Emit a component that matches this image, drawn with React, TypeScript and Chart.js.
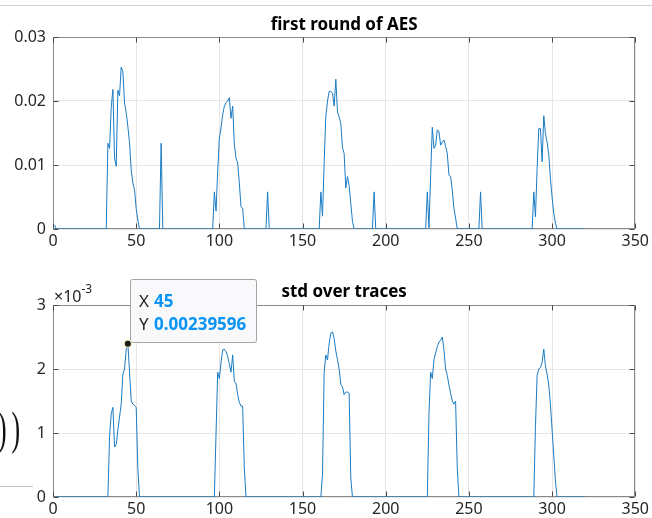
import React, { useEffect, useRef } from "react";
import { Chart, registerables } from "chart.js";

Chart.register(...registerables);

const FONT = "'Noto Sans', 'Open Sans', sans-serif";

// ---------- shared x axis ----------
const xTickValues = [0, 50, 100, 150, 200, 250, 300, 350];
const xTickLabels = ["0", "50", "100", "150", "200", "250", "300", "350"];

// ---------- top panel: first round of AES ----------
const aesTitle = "first round of AES";
const aesYTickValues = [0, 0.01, 0.02, 0.03];
const aesYTickLabels = ["0", "0.01", "0.02", "0.03"];
// each burst: first sample index, then consecutive sample values
const aesBurstStarts = [1, 32, 64, 96, 128, 160, 192, 224, 256, 288, 320];
const aesBurst1 = [0.0006, 0];
const aesBurst2 = [0, 0.0134, 0.0126, 0.019, 0.0218, 0.0111, 0.0098, 0.0217, 0.0208, 0.0253, 0.0246, 0.0197, 0.0182, 0.016, 0.0135, 0.0092, 0.0072, 0.0062, 0.0032, 0.0014, 0];
const aesBurst3 = [0, 0.0134, 0];
const aesBurst4 = [0, 0.0058, 0.0028, 0.009, 0.0142, 0.0158, 0.0179, 0.0192, 0.0197, 0.02, 0.0205, 0.0173, 0.0192, 0.0132, 0.0111, 0.0103, 0.0072, 0.0035, 0.0032, 0];
const aesBurst5 = [0, 0.0058, 0];
const aesBurst6 = [0, 0.0058, 0.002, 0.0105, 0.0176, 0.02, 0.0215, 0.0215, 0.0212, 0.0192, 0.0234, 0.0183, 0.0175, 0.0165, 0.0127, 0.0118, 0.0064, 0.0082, 0.0068, 0.004, 0.0012, 0];
const aesBurst7 = [0, 0.0058, 0];
const aesBurst8 = [0, 0.0058, 0.0002, 0.0085, 0.0159, 0.0126, 0.0131, 0.0155, 0.0152, 0.0131, 0.0136, 0.0139, 0.0129, 0.0118, 0.0084, 0.0082, 0.0061, 0.0032, 0.0017, 0];
const aesBurst9 = [0, 0.0058, 0];
const aesBurst10 = [0, 0.0058, 0.0019, 0.0095, 0.0157, 0.0157, 0.0105, 0.0177, 0.0149, 0.0136, 0.0116, 0.0079, 0.005, 0.0025, 0.0009, 0];
const aesBurst11 = [0];
const aesBursts = [aesBurst1, aesBurst2, aesBurst3, aesBurst4, aesBurst5, aesBurst6, aesBurst7, aesBurst8, aesBurst9, aesBurst10, aesBurst11];

// ---------- bottom panel: std over traces ----------
const stdTitle = "std over traces";
const stdExponent = "-3";
const stdYTickValues = [0, 0.001, 0.002, 0.003];
const stdYTickLabels = ["0", "1", "2", "3"];
const stdBurstStarts = [1, 33, 97, 161, 225, 289, 320];
const stdBurst1 = [0];
const stdBurst2 = [0, 0.95e-3, 1.3e-3, 1.4e-3, 0.78e-3, 0.82e-3, 1.05e-3, 1.25e-3, 1.45e-3, 1.92e-3, 2.0e-3, 2.3e-3, 2.39596e-3, 1.95e-3, 1.5e-3, 1.45e-3, 1.43e-3, 1.4e-3, 0.45e-3, 0];
const stdBurst3 = [0, 1.0e-3, 1.95e-3, 1.85e-3, 2.1e-3, 2.3e-3, 2.31e-3, 2.27e-3, 2.2e-3, 2.08e-3, 1.95e-3, 2.22e-3, 1.8e-3, 1.78e-3, 1.6e-3, 1.48e-3, 1.42e-3, 1.42e-3, 0.45e-3, 0];
const stdBurst4 = [0, 0.35e-3, 1.95e-3, 2.22e-3, 2.14e-3, 2.4e-3, 2.56e-3, 2.58e-3, 2.48e-3, 2.28e-3, 2.15e-3, 2.0e-3, 1.76e-3, 1.72e-3, 1.6e-3, 1.64e-3, 1.64e-3, 1.62e-3, 0.3e-3, 0];
const stdBurst5 = [0, 1.3e-3, 1.95e-3, 1.85e-3, 2.15e-3, 2.25e-3, 2.35e-3, 2.42e-3, 2.45e-3, 2.5e-3, 2.3e-3, 2.0e-3, 1.9e-3, 1.75e-3, 1.62e-3, 1.5e-3, 1.45e-3, 1.5e-3, 0.45e-3, 0];
const stdBurst6 = [0, 1.1e-3, 1.9e-3, 2.0e-3, 2.02e-3, 2.1e-3, 2.31e-3, 2.05e-3, 1.92e-3, 1.75e-3, 1.45e-3, 1.05e-3, 0.65e-3, 0.25e-3, 0];
const stdBurst7 = [0];
const stdBursts = [stdBurst1, stdBurst2, stdBurst3, stdBurst4, stdBurst5, stdBurst6, stdBurst7];

// ---------- data tip ----------
const tipX = 45;
const tipY = 0.00239596;
const tipNames = ["X", "Y"];
const tipTexts = ["45", "0.00239596"];

function toPoints(starts: number[], bursts: number[][]) {
  const pts: { x: number; y: number }[] = [];
  starts.forEach((s, b) => {
    bursts[b].forEach((v, i) => pts.push({ x: s + i, y: v }));
  });
  return pts;
}

type PanelCfg = {
  title: string;
  points: { x: number; y: number }[];
  yMax: number;
  yTicks: number[];
  yLabels: string[];
  padTop: number;
  xAxisH: number;
  titleGap: number;
  exponent?: string;
  tip?: boolean;
};

function makeChart(canvas: HTMLCanvasElement, p: PanelCfg) {
  const tickFont = { family: FONT, size: 16 };
  const plugin = {
    id: "matlabAxes",
    beforeDatasetsDraw(chart: any) {
      const { ctx, chartArea: a } = chart;
      const L = Math.round(a.left) + 0.5;
      const R = Math.round(a.right) - 0.5;
      const T = Math.round(a.top) + 0.5;
      const B = Math.round(a.bottom) - 0.5;
      ctx.save();
      ctx.strokeStyle = "#8a8a8a";
      ctx.lineWidth = 1;
      ctx.strokeRect(L, T, R - L, B - T);
      ctx.strokeStyle = "#4a4a4a";
      ctx.beginPath();
      for (const v of xTickValues) {
        const x = Math.round(chart.scales.x.getPixelForValue(v)) + 0.5;
        ctx.moveTo(x, B);
        ctx.lineTo(x, B - 5);
        ctx.moveTo(x, T);
        ctx.lineTo(x, T + 5);
      }
      for (const v of p.yTicks) {
        const y = Math.round(chart.scales.y.getPixelForValue(v)) + 0.5;
        ctx.moveTo(L, y);
        ctx.lineTo(L + 5, y);
        ctx.moveTo(R, y);
        ctx.lineTo(R - 5, y);
      }
      ctx.stroke();
      ctx.restore();
    },
    afterDraw(chart: any) {
      const { ctx, chartArea: a } = chart;
      ctx.save();
      ctx.fillStyle = "#000";
      ctx.font = `bold 17px ${FONT}`;
      ctx.textAlign = "center";
      ctx.textBaseline = "alphabetic";
      ctx.fillText(p.title, (a.left + a.right) / 2, a.top - p.titleGap);
      if (p.exponent) {
        ctx.fillStyle = "#262626";
        ctx.textAlign = "left";
        ctx.font = `16px ${FONT}`;
        const base = "\u00d710";
        ctx.fillText(base, a.left + 1, a.top - 3);
        const w = ctx.measureText(base).width;
        ctx.font = `12px ${FONT}`;
        ctx.fillText(p.exponent, a.left + 1 + w, a.top - 12);
      }
      if (p.tip) {
        const px = chart.scales.x.getPixelForValue(tipX);
        const py = chart.scales.y.getPixelForValue(tipY);
        const bw = 126;
        const bh = 63;
        const bx = Math.round(px + 2) + 0.5;
        const by = Math.round(py - 2 - bh) + 0.5;
        ctx.beginPath();
        ctx.roundRect(bx, by, bw, bh, 2);
        ctx.fillStyle = "#f9f9fc";
        ctx.fill();
        ctx.strokeStyle = "#a3a3a3";
        ctx.lineWidth = 1;
        ctx.stroke();
        ctx.textAlign = "left";
        tipNames.forEach((n, i) => {
          const yb = by + 27 + i * 23;
          ctx.font = `17px ${FONT}`;
          ctx.fillStyle = "#262626";
          ctx.fillText(n, bx + 8.5, yb);
          ctx.font = `bold 17px ${FONT}`;
          ctx.fillStyle = "#0a94f5";
          ctx.fillText(tipTexts[i], bx + 23.5, yb);
        });
        ctx.beginPath();
        ctx.arc(px, py, 3.6, 0, Math.PI * 2);
        ctx.fillStyle = "#1a1a1a";
        ctx.fill();
        ctx.strokeStyle = "#f3eeb5";
        ctx.lineWidth = 1.2;
        ctx.stroke();
      }
      ctx.restore();
    },
  };

  return new Chart(canvas, {
    type: "line",
    data: {
      datasets: [
        {
          data: p.points,
          borderColor: "#1a7cc4",
          borderWidth: 1,
          pointRadius: 0,
          tension: 0,
          fill: false,
        },
      ],
    },
    options: {
      responsive: false,
      animation: false,
      devicePixelRatio: 1,
      events: [],
      layout: { padding: { left: 0, right: 15, top: p.padTop, bottom: 0 } },
      plugins: {
        legend: { display: false },
        tooltip: { enabled: false },
        title: { display: false },
      },
      scales: {
        x: {
          type: "linear",
          min: 0,
          max: 350,
          afterBuildTicks: (s: any) => {
            s.ticks = xTickValues.map((v) => ({ value: v }));
          },
          afterFit: (s: any) => {
            s.height = p.xAxisH;
          },
          ticks: {
            autoSkip: false,
            maxRotation: 0,
            padding: 3,
            font: tickFont,
            color: "#262626",
            callback: (v: any) => xTickLabels[xTickValues.indexOf(Number(v))],
          },
          grid: { color: "#e6e6e6", drawTicks: false, lineWidth: 1 },
          border: { display: false },
        },
        y: {
          type: "linear",
          min: 0,
          max: p.yMax,
          afterBuildTicks: (s: any) => {
            s.ticks = p.yTicks.map((v) => ({ value: v }));
          },
          afterFit: (s: any) => {
            s.width = 53;
          },
          ticks: {
            padding: 7,
            font: tickFont,
            color: "#262626",
            callback: (v: any) => {
              const i = p.yTicks.findIndex((t) => Math.abs(t - Number(v)) < 1e-9);
              return i >= 0 ? p.yLabels[i] : "";
            },
          },
          grid: { color: "#e6e6e6", drawTicks: false, lineWidth: 1 },
          border: { display: false },
        },
      },
    },
    plugins: [plugin],
  } as any);
}

export default function App() {
  const topRef = useRef<HTMLCanvasElement>(null);
  const botRef = useRef<HTMLCanvasElement>(null);

  useEffect(() => {
    const c1 = makeChart(topRef.current!, {
      title: aesTitle,
      points: toPoints(aesBurstStarts, aesBursts),
      yMax: 0.03,
      yTicks: aesYTickValues,
      yLabels: aesYTickLabels,
      padTop: 37,
      xAxisH: 33,
      titleGap: 7,
    });
    const c2 = makeChart(botRef.current!, {
      title: stdTitle,
      points: toPoints(stdBurstStarts, stdBursts),
      yMax: 0.003,
      yTicks: stdYTickValues,
      yLabels: stdYTickLabels,
      padTop: 43,
      xAxisH: 21,
      titleGap: 8,
      exponent: stdExponent,
      tip: true,
    });
    return () => {
      c1.destroy();
      c2.destroy();
    };
  }, []);

  return (
    <div
      style={{
        position: "absolute",
        left: 0,
        top: 0,
        width: 652,
        height: 518,
        background: "#fff",
        overflow: "hidden",
      }}
    >
      <div style={{ position: "absolute", left: 0, top: 5, width: 652, height: 1, background: "#cfcfcf" }} />
      <canvas ref={topRef} width={652} height={262} style={{ position: "absolute", left: 0, top: 0 }} />
      <canvas ref={botRef} width={652} height={256} style={{ position: "absolute", left: 0, top: 262 }} />
      <span
        style={{
          position: "absolute",
          left: -2,
          top: 405,
          fontFamily: "'Liberation Serif', serif",
          fontSize: 47,
          lineHeight: "47px",
          letterSpacing: 9,
          transform: "scaleX(0.55)",
          transformOrigin: "left top",
          color: "#111",
          whiteSpace: "nowrap",
        }}
      >
        ))
      </span>
      <div style={{ position: "absolute", left: 0, top: 486, width: 33, height: 1, background: "#c4c4c4" }} />
    </div>
  );
}
